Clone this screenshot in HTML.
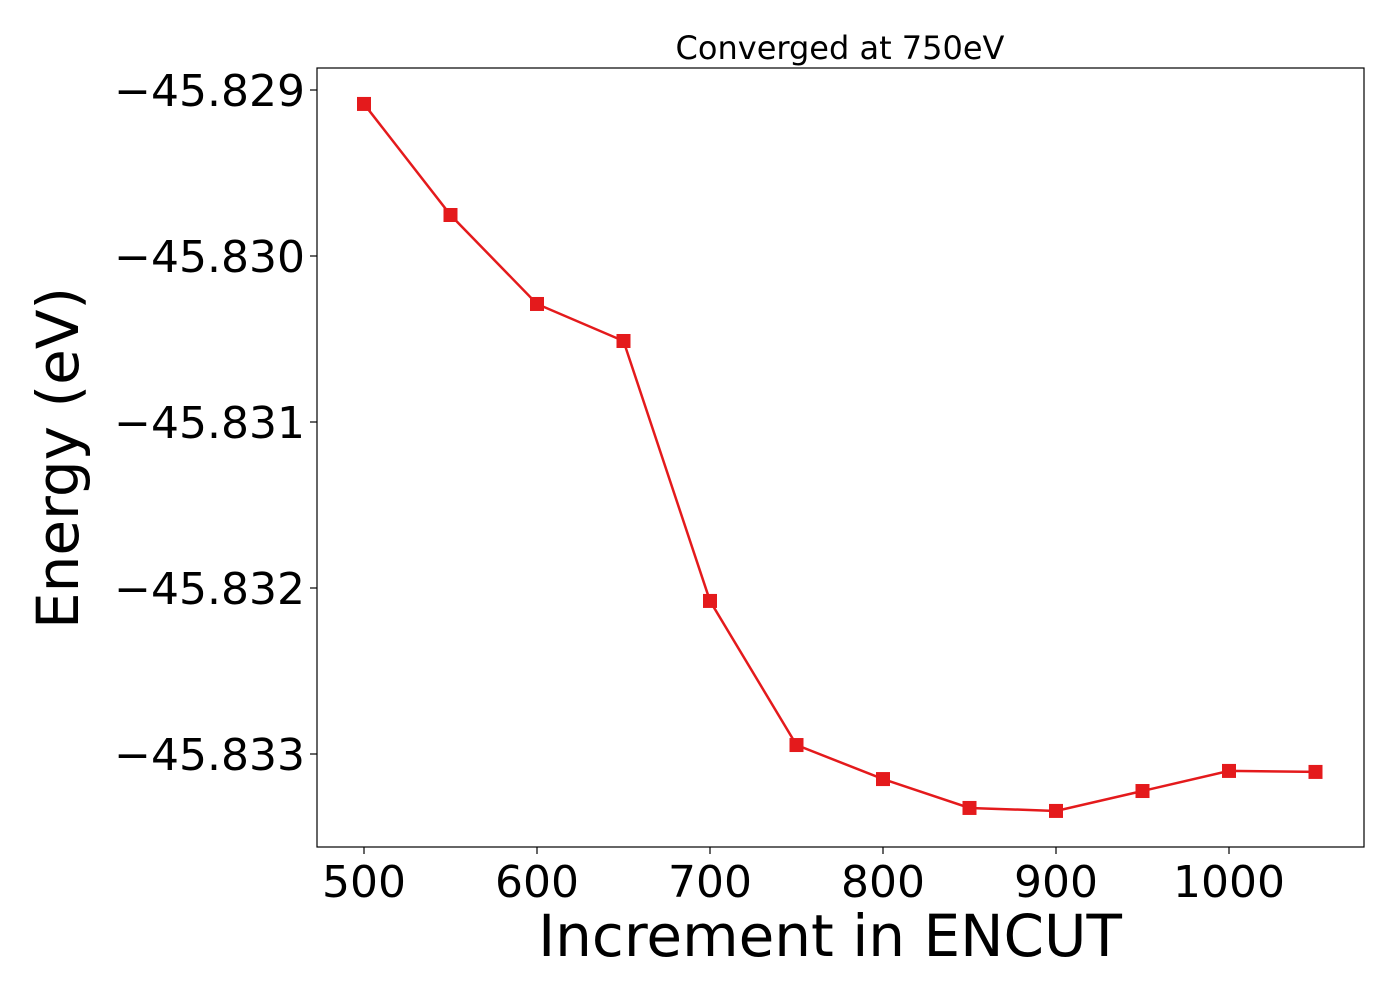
<!DOCTYPE html>
<html><head><meta charset="utf-8"><style>
body{margin:0;background:#fff;}
svg text{font-family:"DejaVu Sans","Liberation Sans",sans-serif;fill:#000;}
</style></head><body>
<svg width="1400" height="1000" xmlns="http://www.w3.org/2000/svg">
<g id="plot"></g>
</svg>
<script>
const xs=[500,550,600,650,700,750,800,850,900,950,1000,1050];
const ys=[-45.829084,-45.829753,-45.830289,-45.830512,-45.832078,-45.832946,-45.833151,-45.833325,-45.833343,-45.833223,-45.833102,-45.833108];
const xTicks=[500,600,700,800,900,1000];
const yTicks=[-45.829,-45.830,-45.831,-45.832,-45.833];
const yTickLabels=["\u221245.829","\u221245.830","\u221245.831","\u221245.832","\u221245.833"];
const L=317,R=1364,T=68,B=847;
const sx=v=>364+(v-500)*(1229-364)/500;
const sy=v=>90+(-45.829-v)*166000;
const NS="http://www.w3.org/2000/svg";
const g=document.getElementById('plot');
function mk(t,a,p){const e=document.createElementNS(NS,t);for(const k in a)e.setAttribute(k,a[k]);(p||g).appendChild(e);return e;}
const frame=mk('rect',{x:L,y:T,width:R-L,height:B-T,fill:'none',stroke:'#000','stroke-width':1.2});


xTicks.forEach(v=>{
 const tk=mk('line',{x1:sx(v),x2:sx(v),y1:B,y2:B+7,stroke:'#000','stroke-width':1.2});
 
 
 const t=mk('text',{x:sx(v),y:B+50,'font-size':44,'text-anchor':'middle'});t.textContent=v;
 
 
});
yTicks.forEach((v,i)=>{
 const tk=mk('line',{x1:L-7,x2:L,y1:sy(v),y2:sy(v),stroke:'#000','stroke-width':1.2});
 
 
 const t=mk('text',{x:L-12,y:sy(v)+16,'font-size':44,'text-anchor':'end'});t.textContent=yTickLabels[i];
 
 
});
const line=mk('polyline',{points:xs.map((x,i)=>sx(x)+','+sy(ys[i])).join(' '),fill:'none',stroke:'#e41a1c','stroke-width':2.5});


xs.forEach((x,i)=>{
 const m=mk('rect',{x:sx(x)-7,y:sy(ys[i])-7,width:14,height:14,fill:'#e41a1c'});
 
 
});
const xt=mk('text',{x:830,y:956,'font-size':58,'text-anchor':'middle'});xt.textContent='Increment in ENCUT';


const yt=mk('text',{x:0,y:0,'font-size':58,'text-anchor':'middle',transform:'translate(78,458) rotate(-90)'});yt.textContent='Energy (eV)';


const tt=mk('text',{x:840,y:59,'font-size':32,'text-anchor':'middle'});tt.textContent='Converged at 750eV';


</script>
</body></html>
